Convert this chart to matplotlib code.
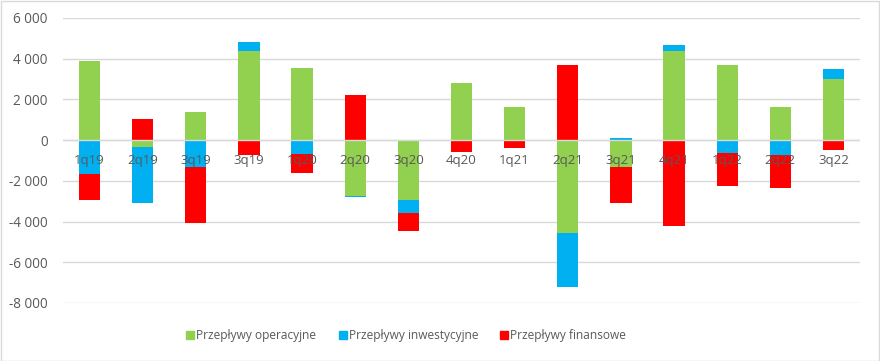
import matplotlib
matplotlib.use("Agg")
import matplotlib.pyplot as plt
import numpy as np
from matplotlib.transforms import offset_copy
from matplotlib.patches import Rectangle
from matplotlib.lines import Line2D

categories = ["1q19", "2q19", "3q19", "3q19", "1q20", "2q20", "3q20", "4q20",
              "1q21", "2q21", "3q21", "4q21", "1q22", "2q22", "3q22"]
operacyjne = [3900, -360, 1390, 4390, 3560, -2740, -2930, 2820,
              1640, -4560, -1310, 4390, 3700, 1640, 3020]
inwestycyjne = [-1640, -2710, -1310, 450, -670, -50, -640, -50,
                0, -2640, 110, 300, -620, -720, 490]
finansowe = [-1290, 1050, -2740, -720, -940, 2230, -870, -520,
             -380, 3700, -1760, -4210, -1630, -1620, -480]

series = [("Przepływy operacyjne", operacyjne, "#92d050"),
          ("Przepływy inwestycyjne", inwestycyjne, "#00b0f0"),
          ("Przepływy finansowe", finansowe, "#ff0000")]

plt.rcParams['font.family'] = ['Open Sans', 'DejaVu Sans']
fig = plt.figure(figsize=(8.8, 3.61), dpi=100)
ax = fig.add_axes([63/880, 1-303/361, (860-63)/880, (303-18)/361])

x = np.arange(len(categories))
pos_base = np.zeros(len(categories))
neg_base = np.zeros(len(categories))
for name, vals, col in series:
    v = np.array(vals, dtype=float)
    base = np.where(v >= 0, pos_base, neg_base)
    ax.bar(x, v, width=0.4, bottom=base, color=col, label=name, zorder=2)
    pos_base = pos_base + np.where(v > 0, v, 0)
    neg_base = neg_base + np.where(v < 0, v, 0)

ax.set_ylim(-8000, 6000)
ax.set_xlim(-0.5, len(categories) - 0.5)
ax.set_yticks(np.arange(-8000, 6001, 2000))
ax.set_yticklabels([f"{t:,}".replace(",", " ") for t in range(-8000, 6001, 2000)])
ax.yaxis.grid(True, color="#d9d9d9", linewidth=1, zorder=0)
ax.set_axisbelow(True)
ax.axhline(0, color="#d9d9d9", linewidth=1, zorder=3)
for s in ax.spines.values():
    s.set_visible(False)
ax.tick_params(axis='y', length=0, labelsize=9.8, labelcolor="#595959", pad=11)
ax.set_xticks([])

trans = offset_copy(ax.transData, fig=fig, x=0, y=-20, units='dots')
for xi, lab in zip(x, categories):
    ax.text(xi, 0, lab, transform=trans, ha='center', va='center',
            fontsize=9.5, color="#595959", zorder=4)

handles = [Line2D([0], [0], marker='s', linestyle='none', markersize=5.5,
                  markerfacecolor=c, markeredgecolor=c) for _, _, c in series]
fig.legend(handles, [n for n, _, _ in series], loc='center',
           bbox_to_anchor=(406/880, 1-336/361), ncol=3, frameon=False,
           fontsize=8.6, labelcolor="#595959", handletextpad=0.1,
           columnspacing=1.8, handlelength=0.8)

fig.patches.append(Rectangle((0.5/880, 0.5/361), 1-1.5/880, 1-1.5/361,
                             transform=fig.transFigure, fill=False,
                             edgecolor="#d9d9d9", linewidth=1))
fig.savefig("out.png", dpi=100, facecolor="white")
